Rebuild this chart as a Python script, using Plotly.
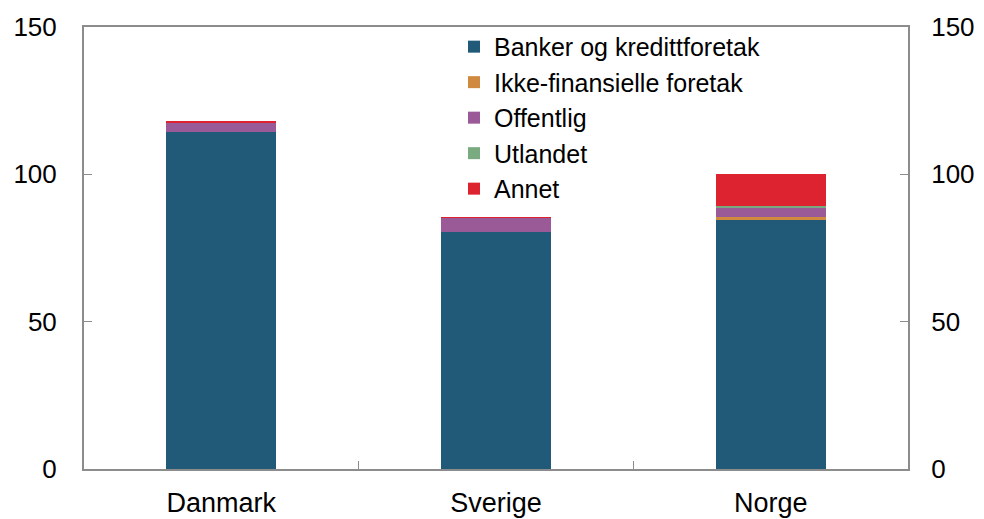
import plotly.graph_objects as go

# Data
countries = ["Danmark", "Sverige", "Norge"]
banker = [114.5, 80.3, 84.5]
ikke_fin = [0.0, 0.0, 0.9]
offentlig = [3.2, 5.0, 3.3]
utlandet = [0.0, 0.0, 0.5]
annet = [0.15, 0.15, 11.0]

series = [
    ("Banker og kredittforetak", banker, "#215a78"),
    ("Ikke-finansielle foretak", ikke_fin, "#d08a40"),
    ("Offentlig", offentlig, "#9a5a98"),
    ("Utlandet", utlandet, "#7aaa80"),
    ("Annet", annet, "#dd2230"),
]

fig = go.Figure()
for name, vals, col in series:
    fig.add_trace(go.Bar(
        x=countries, y=vals, name=name,
        marker=dict(color=col, line=dict(width=0)),
        width=0.4,
    ))

# invisible trace so the right-hand axis gets drawn
fig.add_trace(go.Scatter(x=countries, y=[0, 0, 0], yaxis="y2",
                         mode="markers", marker=dict(opacity=0),
                         showlegend=False, hoverinfo="skip"))

axis_col = "#8c8c8c"
# page body adds 8px margin, so figure is 8px smaller than window
fig.update_layout(
    barmode="stack",
    width=976, height=511,
    margin=dict(l=76, r=76, t=19, b=50, autoexpand=False),
    paper_bgcolor="white", plot_bgcolor="white",
    font=dict(family="Liberation Sans, Arial, sans-serif", size=26, color="black"),
    showlegend=True,
    legend=dict(x=0.449, y=1.007, xanchor="left", yanchor="top",
                traceorder="normal", bgcolor="rgba(0,0,0,0)",
                font=dict(size=25)),
    xaxis=dict(
        type="category", tickson="boundaries", ticks="inside", ticklen=8,
        tickcolor=axis_col, linecolor=axis_col, linewidth=2, showline=True,
        mirror=True, showgrid=False, zeroline=False, ticklabelstandoff=9,
        tickfont=dict(size=27),
    ),
    yaxis=dict(
        range=[0, 150], tickvals=[0, 50, 100, 150], ticks="inside", ticklen=8,
        tickcolor=axis_col, linecolor=axis_col, linewidth=2, showline=True,
        showgrid=False, zeroline=False, ticklabelstandoff=20,
    ),
    yaxis2=dict(
        range=[0, 150], tickvals=[0, 50, 100, 150], ticks="inside", ticklen=8,
        tickcolor=axis_col, linecolor=axis_col, linewidth=2, showline=True,
        showgrid=False, zeroline=False, overlaying="y", side="right",
        ticklabelstandoff=16,
    ),
)

fig.write_html("out.html")
